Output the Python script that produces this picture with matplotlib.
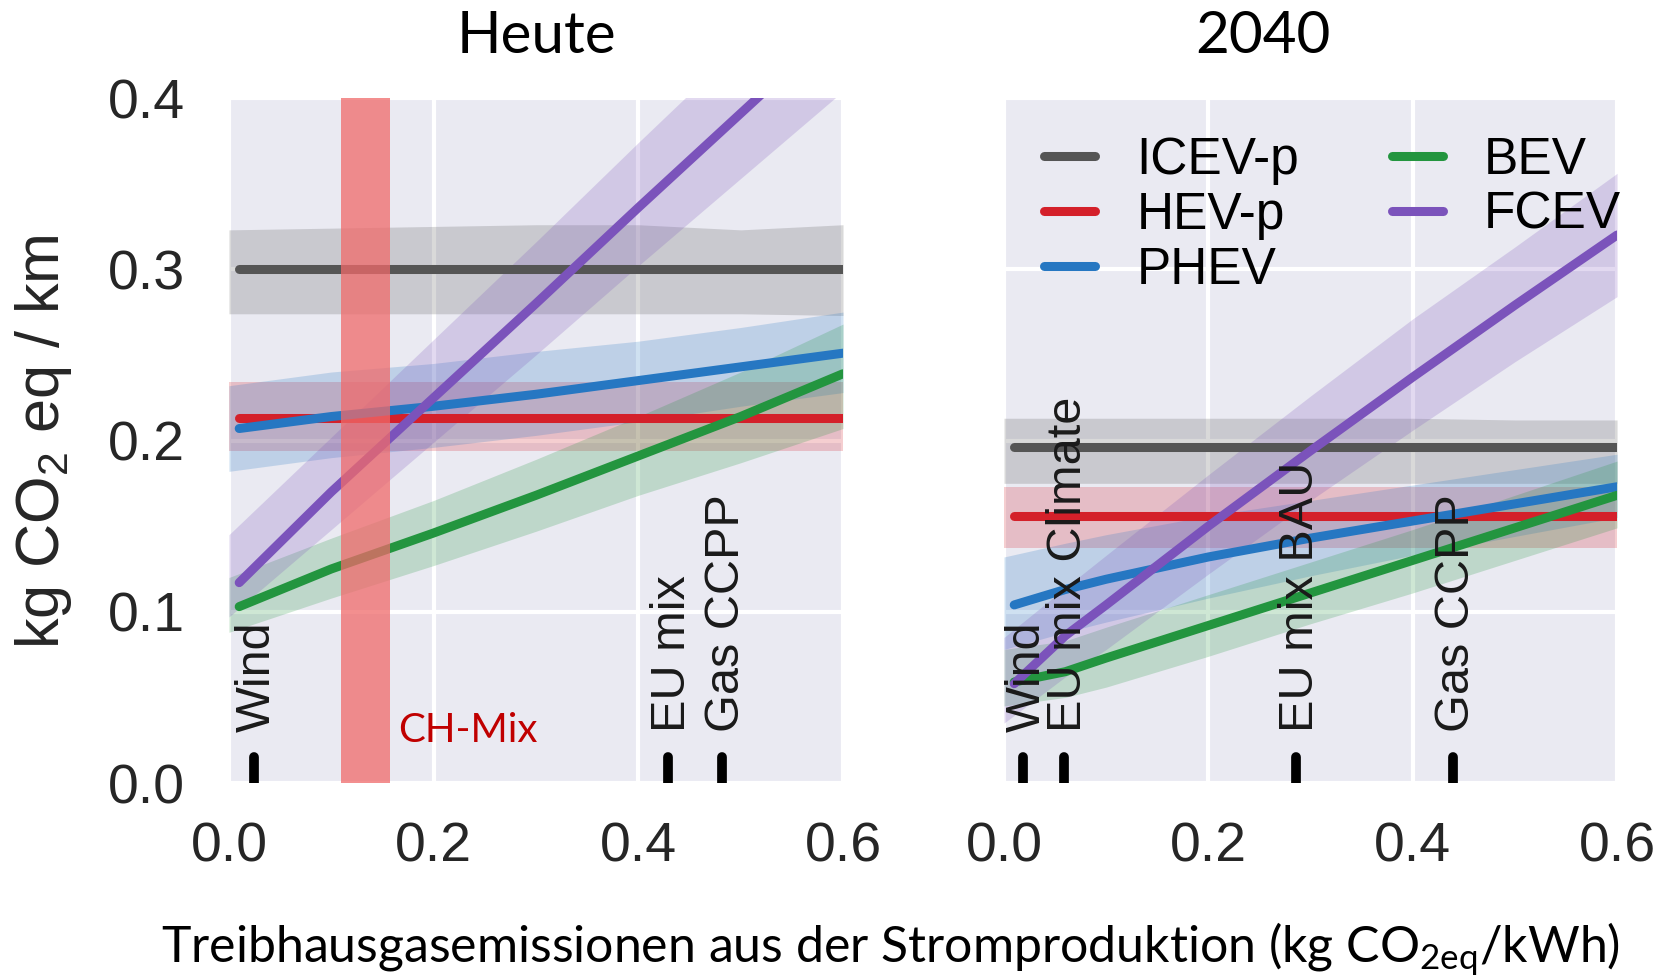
import numpy as np
import matplotlib.pyplot as plt

plt.rcParams['font.family'] = ['Liberation Sans', 'DejaVu Sans']
plt.rcParams['mathtext.default'] = 'regular'

vehicles = ['ICEV-p', 'HEV-p', 'PHEV', 'BEV', 'FCEV']
colors = ['#555555', '#d4202a', '#2677c2', '#23953f', '#7b53bb']

# today: electricity carbon intensity (kg CO2eq / kWh) and
# mean / uncertainty band per vehicle (kg CO2eq / km)
heute_x = [0.0, 0.1, 0.2, 0.3, 0.4, 0.5, 0.6]
heute_mean = [
    [0.300, 0.300, 0.300, 0.300, 0.300, 0.300, 0.300],
    [0.213, 0.213, 0.213, 0.213, 0.213, 0.213, 0.213],
    [0.207, 0.214, 0.220, 0.227, 0.235, 0.243, 0.251],
    [0.103, 0.125, 0.146, 0.168, 0.191, 0.214, 0.239],
    [0.117, 0.170, 0.225, 0.280, 0.336, 0.391, 0.446],
]
heute_lo = [
    [0.274, 0.274, 0.274, 0.274, 0.274, 0.274, 0.273],
    [0.194, 0.194, 0.194, 0.194, 0.194, 0.194, 0.194],
    [0.182, 0.190, 0.196, 0.203, 0.211, 0.220, 0.228],
    [0.088, 0.108, 0.127, 0.147, 0.168, 0.187, 0.207],
    [0.097, 0.148, 0.199, 0.250, 0.302, 0.353, 0.404],
]
heute_hi = [
    [0.323, 0.324, 0.325, 0.326, 0.326, 0.323, 0.326],
    [0.234, 0.234, 0.234, 0.234, 0.234, 0.234, 0.234],
    [0.232, 0.240, 0.245, 0.252, 0.258, 0.266, 0.275],
    [0.120, 0.143, 0.165, 0.189, 0.214, 0.240, 0.268],
    [0.145, 0.202, 0.259, 0.316, 0.374, 0.431, 0.488],
]

# 2040
y2040_x = [0.0, 0.06, 0.1, 0.2, 0.3, 0.4, 0.5, 0.6]
y2040_mean = [
    [0.196, 0.196, 0.196, 0.196, 0.196, 0.196, 0.196, 0.196],
    [0.156, 0.156, 0.156, 0.156, 0.156, 0.156, 0.156, 0.156],
    [0.104, 0.113, 0.119, 0.132, 0.143, 0.153, 0.163, 0.173],
    [0.059, 0.065, 0.073, 0.092, 0.111, 0.130, 0.149, 0.168],
    [0.058, 0.086, 0.104, 0.150, 0.194, 0.237, 0.279, 0.320],
]
y2040_lo = [
    [0.175, 0.175, 0.175, 0.175, 0.175, 0.175, 0.175, 0.175],
    [0.137, 0.137, 0.137, 0.137, 0.137, 0.137, 0.137, 0.137],
    [0.078, 0.088, 0.094, 0.108, 0.121, 0.133, 0.144, 0.155],
    [0.045, 0.050, 0.056, 0.074, 0.093, 0.111, 0.130, 0.149],
    [0.035, 0.062, 0.078, 0.122, 0.165, 0.206, 0.246, 0.284],
]
y2040_hi = [
    [0.213, 0.213, 0.213, 0.213, 0.213, 0.213, 0.212, 0.212],
    [0.173, 0.173, 0.173, 0.173, 0.173, 0.173, 0.173, 0.173],
    [0.132, 0.140, 0.145, 0.156, 0.165, 0.174, 0.183, 0.192],
    [0.078, 0.083, 0.091, 0.110, 0.129, 0.148, 0.168, 0.188],
    [0.085, 0.114, 0.133, 0.180, 0.226, 0.271, 0.313, 0.356],
]

# electricity sources marked on the x axis
heute_src = ['Wind', 'EU mix', 'Gas CCPP']
heute_src_x = [0.024, 0.429, 0.482]
y2040_src = ['Wind', 'EU mix Climate', 'EU mix BAU', 'Gas CCPP']
y2040_src_x = [0.019, 0.059, 0.286, 0.439]

# Swiss electricity mix range
ch_mix = (0.109, 0.157)

title_font = ['Lato', 'DejaVu Sans']


def draw_panel(ax, xs, mean, lo, hi, src_names, src_x):
    x = np.array(xs)
    x_line = np.maximum(x, 0.01)
    for name, c, m, l, h in zip(vehicles, colors, mean, lo, hi):
        ax.fill_between(x, l, h, color=c, alpha=0.22, lw=0, zorder=1)
        ax.plot(x_line, m, color=c, lw=6.5, solid_capstyle='round',
                label=name, zorder=3)
    ax.vlines(src_x, 0, 0.015, color='black', lw=7, capstyle='round', zorder=5)
    for name, sx in zip(src_names, src_x):
        ax.annotate(name, (sx, 0.03), xytext=(3, 0), textcoords='offset points',
                    rotation=90, ha='center', va='bottom', fontsize=35,
                    color='#1a1a1a', zorder=6)
    ax.set_xlim(0, 0.6)
    ax.set_ylim(0, 0.4)
    ax.set_xticks([0.0, 0.2, 0.4, 0.6])
    ax.set_yticks([0.0, 0.1, 0.2, 0.3, 0.4])
    ax.set_facecolor('#EAEAF2')
    ax.grid(color='white', lw=3)
    ax.set_axisbelow(True)
    for s in ax.spines.values():
        s.set_visible(False)
    ax.tick_params(length=0, labelsize=40, labelcolor='#262626')
    ax.tick_params(axis='x', pad=28)
    ax.tick_params(axis='y', pad=32)


fig = plt.figure(figsize=(16.7, 9.8), dpi=100)
ax1 = fig.add_axes([0.1371, 0.2010, 0.3677, 0.6990])
ax2 = fig.add_axes([0.6012, 0.2010, 0.3671, 0.6990])

draw_panel(ax1, heute_x, heute_mean, heute_lo, heute_hi, heute_src, heute_src_x)
draw_panel(ax2, y2040_x, y2040_mean, y2040_lo, y2040_hi, y2040_src, y2040_src_x)
ax2.tick_params(axis='y', labelleft=False)

ax1.axvspan(ch_mix[0], ch_mix[1], color='#f06a6a', alpha=0.75, lw=0, zorder=4)
ax1.text(0.165, 0.024, 'CH-Mix', color='#c00000', fontsize=29,
         family=title_font, ha='left', va='baseline', zorder=6)

ax2.legend(ncol=2, loc='upper left', bbox_to_anchor=(0.065, 0.945),
           frameon=False, fontsize=37, handlelength=1.0, handletextpad=0.8,
           columnspacing=1.8, labelspacing=0.12, borderpad=0, borderaxespad=0)

fig.text(0.321, 0.946, 'Heute', ha='center', va='baseline', fontsize=42,
         family=title_font)
fig.text(0.756, 0.946, '2040', ha='center', va='baseline', fontsize=42,
         family=title_font)
fig.text(0.026, 0.549, r'kg CO$_2$ eq / km', rotation=90, ha='center',
         va='center', fontsize=44, color='#262626')
fig.text(0.533, 0.018,
         r'Treibhausgasemissionen aus der Stromproduktion (kg CO$_{2eq}$/kWh)',
         ha='center', va='baseline', fontsize=36, family=title_font)

fig.savefig('out.png', dpi=100)
